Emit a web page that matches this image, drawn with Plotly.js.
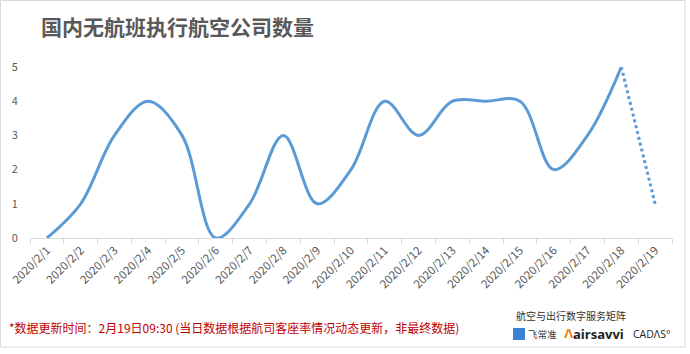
<!DOCTYPE html>
<html><head><meta charset="utf-8">
<script src="https://cdn.plot.ly/plotly-3.0.1.min.js"></script>
<style>html,body{margin:0;padding:0;background:#fff;}#c{width:690px;height:354px;}</style>
</head><body><div id="c"></div>
<script>
const dates = ["2020/2/1","2020/2/2","2020/2/3","2020/2/4","2020/2/5","2020/2/6","2020/2/7","2020/2/8","2020/2/9","2020/2/10","2020/2/11","2020/2/12","2020/2/13","2020/2/14","2020/2/15","2020/2/16","2020/2/17","2020/2/18","2020/2/19"];
const counts = [0,1,3,4,3,0,1,3,1,2,4,3,4,4,4,2,3,5,1];
const solidN = 18; // last day is provisional (dotted)
const titleText = "国内无航班执行航空公司数量";
const noteText = "*数据更新时间：2月19日09:30 (当日数据根据航司客座率情况动态更新，非最终数据)";
const matrixText = "航空与出行数字服务矩阵";

const lineColor = "#5b9bd5";
const traces = [
  {x: dates.slice(0, solidN), y: counts.slice(0, solidN), type: "scatter", mode: "lines",
   line: {color: lineColor, width: 3, shape: "spline", smoothing: 1}, hoverinfo: "skip"},
  {x: dates.slice(solidN - 1), y: counts.slice(solidN - 1), type: "scatter", mode: "lines",
   line: {color: lineColor, width: 3, dash: "dot"}, hoverinfo: "skip"}
];
const font = "'Microsoft YaHei','Noto Sans CJK SC',sans-serif";
const PX = px => (px - 30) / 642;
const PY = py => (238 - py) / 171;
const layout = {
  width: 690, height: 354, showlegend: false,
  margin: {l: 30, r: 18, t: 67, b: 116},
  paper_bgcolor: "#fff", plot_bgcolor: "#fff",
  font: {family: font, color: "#595959", size: 11},
  xaxis: {type: "category", range: [-0.5, dates.length - 0.5], showgrid: false, zeroline: false,
    showline: true, linecolor: "#d9d9d9", linewidth: 1,
    ticks: "outside", tickson: "boundaries", ticklen: 5, tickcolor: "#d9d9d9", tickangle: -45,
    tickfont: {size: 11.5, color: "#595959"}},
  yaxis: {range: [0, 5], showgrid: false, zeroline: false, showline: false, dtick: 1,
    tickfont: {size: 11, color: "#595959"}, ticks: "outside", ticklen: 9, tickcolor: "rgba(0,0,0,0)"},
  shapes: [
    {type: "rect", xref: "paper", yref: "paper", x0: PX(0.5), x1: PX(685), y0: PY(347), y1: PY(0.5),
     line: {color: "#d9d9d9", width: 1}, fillcolor: "rgba(0,0,0,0)"},
    {type: "rect", xref: "paper", yref: "paper", x0: PX(513), x1: PX(525), y0: PY(340), y1: PY(328),
     line: {width: 0}, fillcolor: "#3b82d6"}
  ],
  annotations: [
    {text: "<b>" + titleText + "</b>", xref: "paper", yref: "paper", x: PX(39), y: PY(26),
     xanchor: "left", yanchor: "middle", showarrow: false, font: {size: 21, color: "#595959", family: font}},
    {text: noteText, xref: "paper", yref: "paper", x: PX(7), y: PY(327), xanchor: "left", yanchor: "middle",
     showarrow: false, font: {size: 12, color: "#c00000", family: font}},
    {text: matrixText, xref: "paper", yref: "paper", x: PX(514), y: PY(315), xanchor: "left", yanchor: "middle",
     showarrow: false, font: {size: 10, color: "#333", family: font}},
    {text: "飞常准", xref: "paper", yref: "paper", x: PX(526), y: PY(334), xanchor: "left", yanchor: "middle",
     showarrow: false, font: {size: 9.5, color: "#333", family: font}},
    {text: "<b>Λ</b>", xref: "paper", yref: "paper", x: PX(562), y: PY(334), xanchor: "left", yanchor: "middle",
     showarrow: false, font: {size: 12, color: "#e8911f", family: "DejaVu Sans, sans-serif"}},
    {text: "<b>airsavvi</b>", xref: "paper", yref: "paper", x: PX(571), y: PY(334), xanchor: "left", yanchor: "middle",
     showarrow: false, font: {size: 13, color: "#222", family: "'Open Sans', sans-serif"}},
    {text: "CADΛS°", xref: "paper", yref: "paper", x: PX(631), y: PY(334), xanchor: "left", yanchor: "middle",
     showarrow: false, font: {size: 10.5, color: "#222", family: "'Open Sans', sans-serif"}}
  ]
};
Plotly.newPlot("c", traces, layout, {staticPlot: true, displayModeBar: false});
</script></body></html>
